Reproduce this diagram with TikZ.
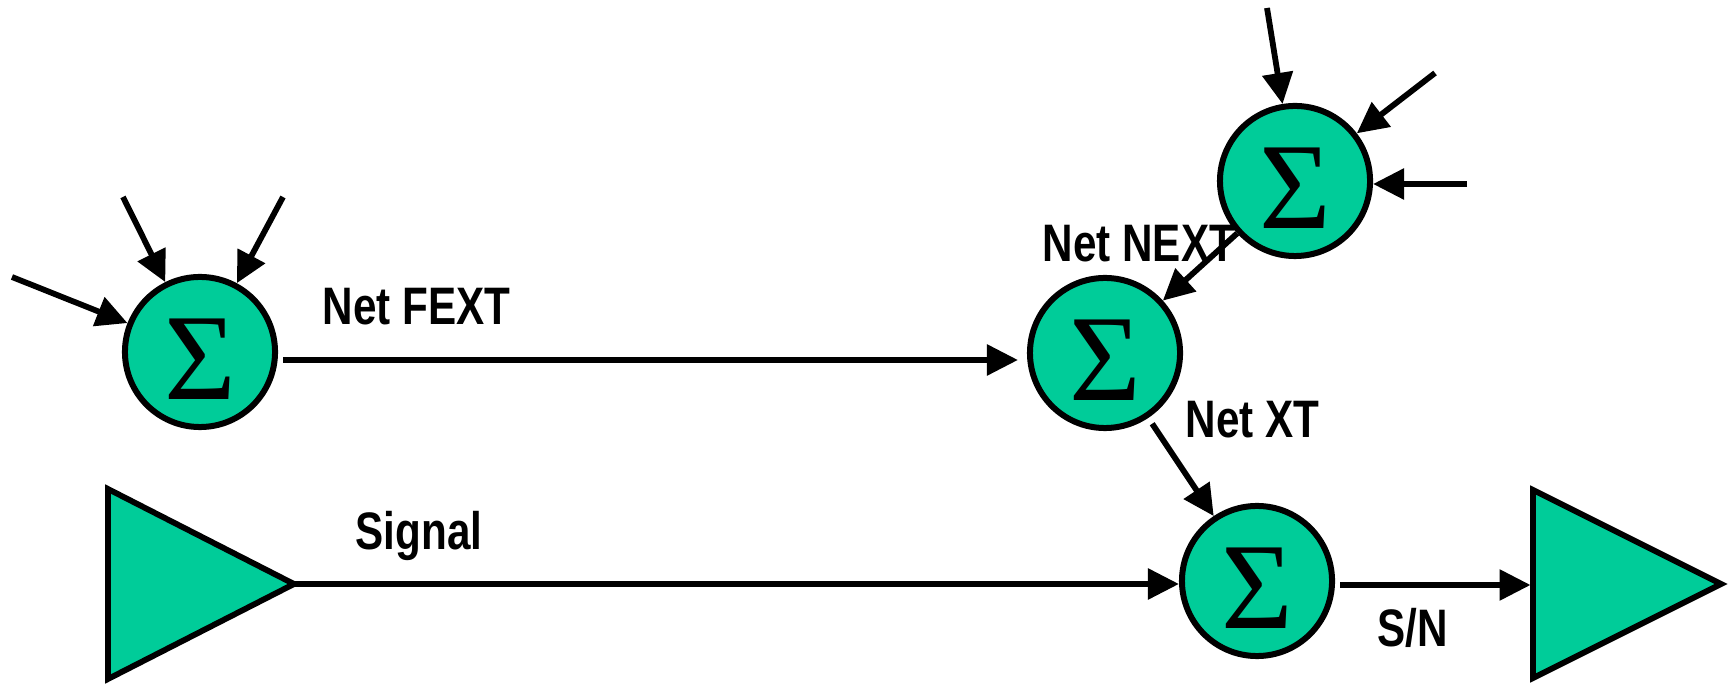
\documentclass[tikz,border=0pt]{standalone}
\usepackage{fontspec}
\setmainfont{Liberation Sans}
\newfontfamily\lblfont[FakeStretch=0.8]{Liberation Sans}
\newfontfamily\sigfont{Liberation Serif}
\usetikzlibrary{arrows.meta,calc}
\definecolor{sumgreen}{RGB}{0,204,153}
\begin{document}
\begin{tikzpicture}[x=0.01cm,y=-0.01cm,
  sumnode/.style={circle,draw,fill=sumgreen,line width=0.06cm,minimum size=1.50cm,inner sep=0pt,
     font=\sigfont\fontsize{35}{35}\selectfont,text height=0.94cm,text depth=0pt},
  amp/.style={draw,fill=sumgreen,line width=0.058cm,line join=miter},
  arr/.style={line width=0.058cm,-{Triangle[length=0.31cm,width=0.30cm]}},
  lbl/.style={font=\lblfont\bfseries\fontsize{15}{18}\selectfont,anchor=base west,inner sep=0pt}]
\useasboundingbox (0,0) rectangle (1734,686);

% amplifiers
\draw[amp] (108,489) -- (294,584) -- (108,679) -- cycle;
\coordinate (t1) at (294,584);
\draw[amp] (1533,490) -- (1721,584) -- (1533,678) -- cycle;
\coordinate (t2) at (1533,584);

% summing nodes
\node[sumnode] (s1) at (200,352) {Σ};
\node[sumnode] (s2) at (1105,353) {Σ};
\node[sumnode] (s3) at (1295,181) {Σ};
\node[sumnode] (s4) at (1257,581) {Σ};

% labels
\node[lbl] (fext) at (322,325) {Net FEXT};
\node[lbl] (sig) at (355,550) {Signal};
\node[lbl] (next) at (1042,262) {Net NEXT};
\node[lbl] (xt) at (1185,438) {Net XT};
\node[lbl] (sn) at (1377,647) {S/N};

% inputs to s1
\coordinate (a1) at (12,277);
\coordinate (a2) at (123,197);
\coordinate (a3) at (283,197);
\draw[arr] (a1) -- (s1);
\draw[arr] (a2) -- (s1);
\draw[arr] (a3) -- (s1);

% inputs to s3
\coordinate (b1) at (1267,8);
\coordinate (b2) at (1435,73);
\coordinate (b3) at (1467,184);
\draw[arr] (b1) -- (s3);
\draw[arr] (b2) -- (s3);
\draw[arr] (b3) -- (b3 -| s3.east);

% connections
\coordinate (f0) at ($(s1.east)+(5,8)$);
\draw[arr,shorten >=0.09cm] (f0) -- (f0 -| s2.west);
\draw[arr] (s3) -- (s2);
\draw[arr,shorten <=0.07cm] (s2) -- (s4);
\draw[arr] (t1) -- (t1 -| s4.west);
\coordinate (n0) at ($(s4.east)+(5,4)$);
\draw[arr,shorten >=0.025cm] (n0) -- (n0 -| t2);
\end{tikzpicture}
\end{document}
